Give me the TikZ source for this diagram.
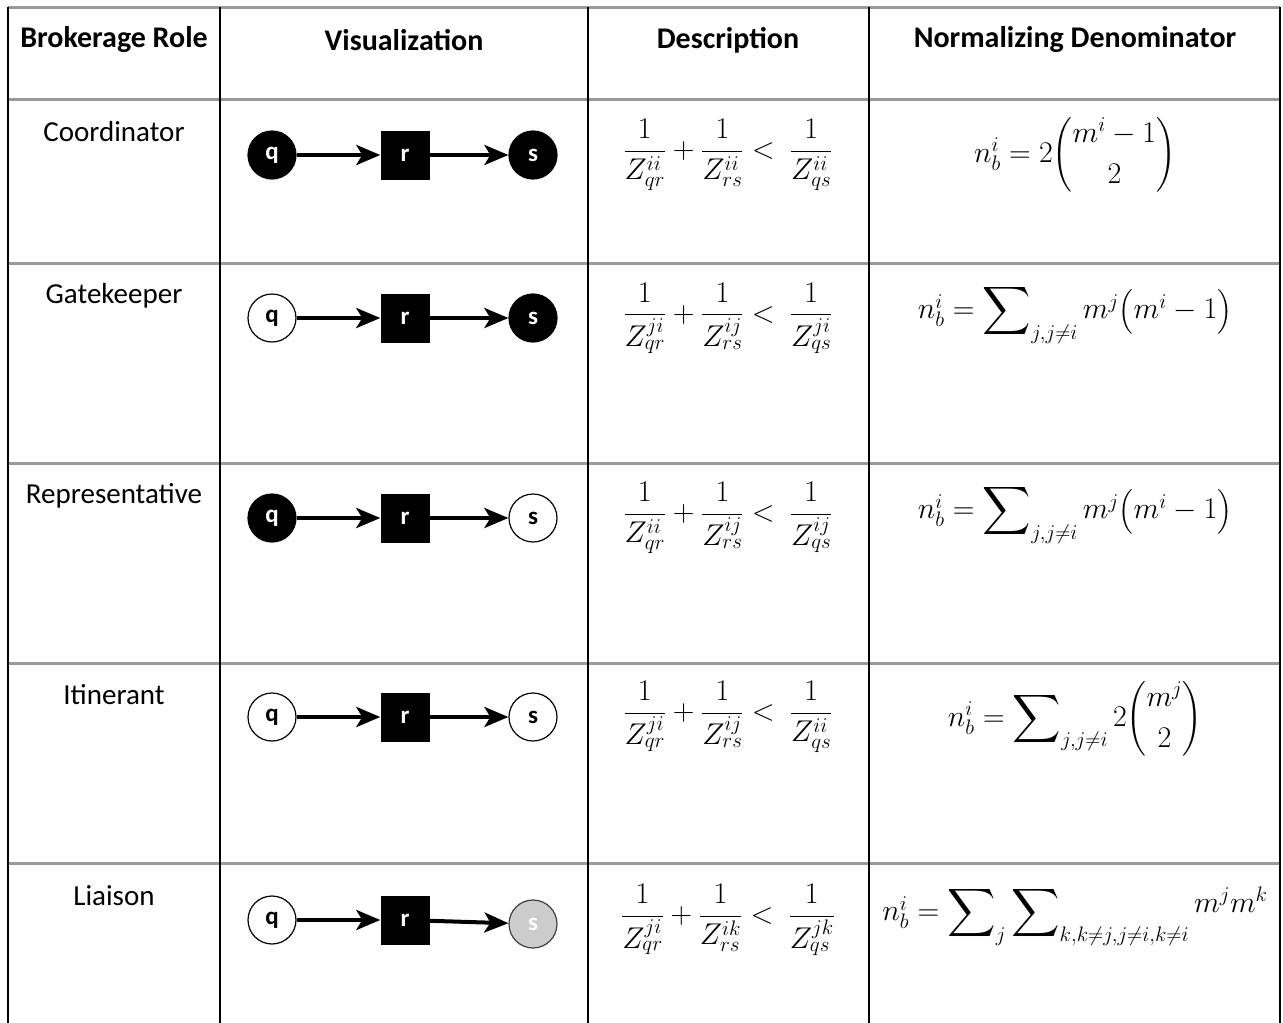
\documentclass[tikz,border=0pt]{standalone}
\usepackage{fix-cm}
\usepackage{amsmath}
\usepackage{graphicx}
\usepackage[no-math]{fontspec}
\setmainfont{Carlito}
\usetikzlibrary{arrows.meta,shapes.geometric}
\newcommand{\wsum}{\mathop{\vcenter{\hbox{\scalebox{1.35}{$\displaystyle\sum$}}}}\nolimits}
\tikzset{
  hdr/.style={font=\fontsize{30}{34}\selectfont\bfseries},
  role/.style={font=\fontsize{29}{34}\selectfont},
  eqn/.style={font=\fontsize{30}{36}\selectfont},
  actor/.style={
      circle,
      draw=black,
      line width=1.2pt,
      minimum size=48pt,
      inner sep=0pt,
      font=\fontsize{25}{25}\selectfont\bfseries
  },
  blk/.style={actor, fill=black, text=white},
  wht/.style={actor, fill=white, text=black},
  gry/.style={actor, fill=black!20, draw=black!75, text=white},
  broker/.style={
      rectangle,
      fill=black,
      text=white,
      minimum size=49pt,
      inner sep=0pt,
      font=\fontsize{25}{25}\selectfont\bfseries
  },
  tie/.style={line width=4pt, -{Stealth[length=24pt,width=20pt,inset=6pt]}},
  hrule/.style={draw=black!40, line width=3pt},
  vrule/.style={draw=black, line width=2pt}
}

\begin{document}
\begin{tikzpicture}[x=1pt,y=-1pt]
	\useasboundingbox (0,0) rectangle (1283,1023);
	\foreach \y in {7,99,263,463,663,863}
		\draw[hrule] (8,\y) -- (1280,\y);
	\foreach \x in {8,220,588,869,1280}
		\draw[vrule] (\x,7) -- (\x,1023);

	\node[hdr] (hrole) at (114,40) {Brokerage Role};
	\node[hdr] (hvis) at (404,40) {Visualization};
	\node[hdr] (hdesc) at (728,40) {Description};
	\node[hdr] (hnorm) at (1075,40) {Normalizing Denominator};

	\node[role] (coord) at (114,132) {Coordinator};
	\node[blk] (q1) at (272,155) {q};
	\node[broker] (r1) at (405,155) {r};
	\node[blk] (s1) at (533,155) {s};
	\draw[tie] (q1) -- (r1);
	\draw[tie] (r1) -- (s1);
	\node[eqn] (d1) at (728,155)
		{$\dfrac{1}{Z_{qr}^{ii}}+\dfrac{1}{Z_{rs}^{ii}}<\ \dfrac{1}{Z_{qs}^{ii}}$};
	\node[eqn] (n1) at (1075,155) {$n_b^i=2\dbinom{m^i-1}{2}$};

	\node[role] (gate) at (114,296) {Gatekeeper};
	\node[wht] (q2) at (272,318) {q};
	\node[broker] (r2) at (405,318) {r};
	\node[blk] (s2) at (533,318) {s};
	\draw[tie] (q2) -- (r2);
	\draw[tie] (r2) -- (s2);
	\node[eqn] (d2) at (728,318)
		{$\dfrac{1}{Z_{qr}^{ji}}+\dfrac{1}{Z_{rs}^{ij}}<\ \dfrac{1}{Z_{qs}^{ji}}$};
	\node[eqn] (n2) at (1075,314)
		{$n_b^i=\wsum_{j,j\neq i}m^j\bigl(m^i-1\bigr)$};

	\node[role] (repr) at (114,496) {Representative};
	\node[blk] (q3) at (272,518) {q};
	\node[broker] (r3) at (405,518) {r};
	\node[wht] (s3) at (533,518) {s};
	\draw[tie] (q3) -- (r3);
	\draw[tie] (r3) -- (s3);
	\node[eqn] (d3) at (728,518)
		{$\dfrac{1}{Z_{qr}^{ii}}+\dfrac{1}{Z_{rs}^{ij}}<\ \dfrac{1}{Z_{qs}^{ij}}$};
	\node[eqn] (n3) at (1075,514)
		{$n_b^i=\wsum_{j,j\neq i}m^j\bigl(m^i-1\bigr)$};

	\node[role] (itin) at (114,695) {Itinerant};
	\node[wht] (q4) at (272,717) {q};
	\node[broker] (r4) at (405,717) {r};
	\node[wht] (s4) at (533,717) {s};
	\draw[tie] (q4) -- (r4);
	\draw[tie] (r4) -- (s4);
	\node[eqn] (d4) at (728,717)
		{$\dfrac{1}{Z_{qr}^{ji}}+\dfrac{1}{Z_{rs}^{ij}}<\ \dfrac{1}{Z_{qs}^{ii}}$};
	\node[eqn] (n4) at (1075,719)
		{$n_b^i=\wsum_{j,j\neq i}2\dbinom{m^j}{2}$};

	\node[role] (liai) at (114,896) {Liaison};
	\node[wht] (q5) at (272,920) {q};
	\node[broker] (r5) at (405,920) {r};
	\node[gry] (s5) at (533,924) {s};
	\draw[tie] (q5) -- (r5);
	\draw[tie] (r5) -- (s5);
	\node[eqn] (d5) at (728,920)
		{$\dfrac{1}{Z_{qr}^{ji}}+\dfrac{1}{Z_{rs}^{ik}}<\ \dfrac{1}{Z_{qs}^{jk}}$};
	\node[eqn] (n5) at (1075,916)
		{$n_b^i=\wsum_{j}\wsum_{k,k\neq j,j\neq i,k\neq i}\raisebox{0.6ex}{$m^jm^k$}$};
\end{tikzpicture}
\end{document}
